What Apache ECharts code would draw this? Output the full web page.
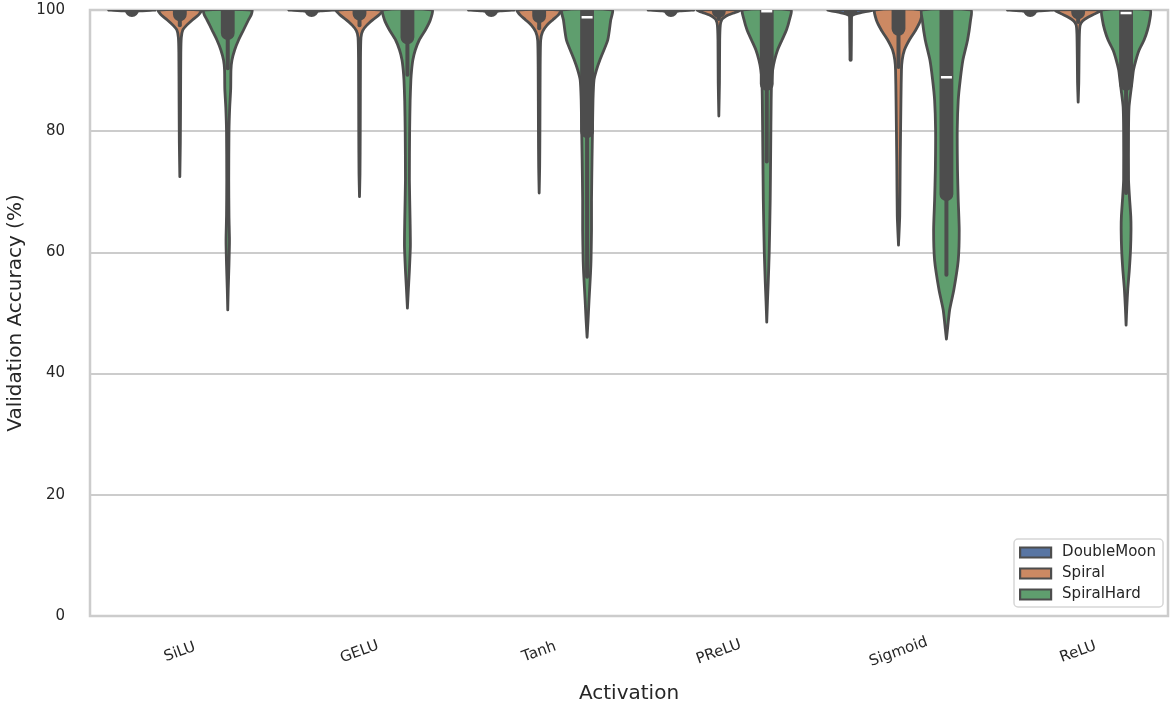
<!DOCTYPE html>
<html>
<head>
<meta charset="utf-8">
<script src="https://cdn.jsdelivr.net/npm/echarts@6/dist/echarts.min.js"></script>
<style>
  html, body { margin: 0; padding: 0; background: #fff; }
  #chart { width: 1172px; height: 701px; }
</style>
</head>
<body>
<div id="chart"></div>
<script>
const activations = ['SiLU', 'GELU', 'Tanh', 'PReLU', 'Sigmoid', 'ReLU'];
const datasets = ['DoubleMoon', 'Spiral', 'SpiralHard'];
const colors = ['#5875a3', '#cc8963', '#5f9e6e'];
const yTicks = [0, 20, 40, 60, 80, 100];

// violin outlines: [accuracy, relative half width]
const doubleMoonShape = [
  [[100, 0.94], [99.85, 0.35], [99.75, 0.05], [99.6, 0]],
  [[100, 0.92], [99.85, 0.35], [99.75, 0.05], [99.6, 0]],
  [[100, 0.92], [99.85, 0.35], [99.75, 0.05], [99.6, 0]],
  [[100, 0.92], [99.85, 0.35], [99.75, 0.05], [99.6, 0]],
  [[100, 0.92], [99.6, 0.45], [99.3, 0.12], [99, 0.04], [95, 0.02], [91.8, 0]],
  [[100, 0.92], [99.85, 0.35], [99.75, 0.05], [99.6, 0]],
];
const spiralShape = [
  [[100, 0.88], [99.2, 0.76], [98.4, 0.52], [97.5, 0.28], [96.7, 0.12], [95.5, 0.06], [93, 0.04], [85, 0.03], [78, 0.02], [72.5, 0]],
  [[100, 0.95], [99.2, 0.8], [98.4, 0.55], [97.5, 0.3], [96.6, 0.13], [95.5, 0.06], [92, 0.04], [80, 0.03], [73, 0.02], [69.2, 0]],
  [[100, 0.9], [99.2, 0.78], [98.4, 0.56], [97.5, 0.32], [96.4, 0.14], [95, 0.06], [90, 0.04], [80, 0.03], [74, 0.02], [69.8, 0]],
  [[100, 0.88], [99.5, 0.6], [99.2, 0.4], [98.8, 0.22], [98.4, 0.12], [97.5, 0.06], [95, 0.035], [88, 0.025], [82.5, 0]],
  [[100, 0.96], [98.35, 0.9], [96.7, 0.7], [95.05, 0.44], [93.4, 0.24], [91.75, 0.15], [90.1, 0.12], [85.2, 0.1], [75, 0.07], [66, 0.05], [61.2, 0]],
  [[100, 0.94], [99.4, 0.7], [98.8, 0.4], [98.2, 0.18], [97.5, 0.08], [96, 0.05], [92, 0.035], [88, 0.025], [84.8, 0]],
];
const spiralHardShape = [
  [[100, 0.98], [99.17, 0.95], [98.35, 0.84], [96.7, 0.64], [95.05, 0.44], [93.4, 0.28], [91.7, 0.17], [90.1, 0.13], [87, 0.12], [84, 0.08], [80, 0.05], [72, 0.04], [66, 0.05], [62, 0.07], [58, 0.05], [54, 0.02], [50.5, 0]],
  [[100, 1.0], [98.35, 0.93], [96.7, 0.73], [95.05, 0.48], [93.4, 0.32], [91.75, 0.22], [90.1, 0.17], [88.45, 0.14], [85, 0.11], [80, 0.09], [72, 0.08], [65, 0.11], [61, 0.12], [57, 0.08], [54, 0.04], [50.8, 0]],
  [[100, 1.02], [98.35, 0.96], [95.05, 0.84], [91.75, 0.52], [90.1, 0.38], [88.45, 0.28], [85.15, 0.24], [80.2, 0.22], [75.2, 0.2], [68.6, 0.18], [63.7, 0.18], [58.7, 0.16], [56.6, 0.14], [52.1, 0.08], [48.8, 0.04], [46, 0]],
  [[100, 0.98], [98.35, 0.92], [96.7, 0.8], [95.05, 0.62], [93.4, 0.44], [91.75, 0.32], [90.1, 0.24], [88.45, 0.2], [85.15, 0.18], [76.9, 0.16], [68.6, 0.14], [60, 0.1], [55, 0.06], [52, 0.03], [48.5, 0]],
  [[100, 1.0], [98.35, 0.98], [95.05, 0.86], [91.75, 0.67], [88.45, 0.56], [85.15, 0.48], [80.2, 0.44], [73.6, 0.45], [68.6, 0.48], [63.7, 0.52], [58.7, 0.48], [53.8, 0.3], [50.5, 0.13], [47.2, 0.04], [45.7, 0]],
  [[100, 0.98], [98.35, 0.96], [96.7, 0.87], [95.05, 0.73], [93.4, 0.53], [91.75, 0.4], [90.1, 0.3], [88.45, 0.25], [86.8, 0.2], [84, 0.12], [80, 0.1], [72, 0.1], [69, 0.14], [66, 0.19], [63.7, 0.2], [60.4, 0.18], [57, 0.13], [54, 0.07], [51, 0.03], [48, 0]],
];

// inner box: [whisker low, q1, median, q3, whisker high]
const doubleMoonBox = [
  [100, 100, null, 100, 100],
  [100, 100, null, 100, 100],
  [100, 100, null, 100, 100],
  [100, 100, null, 100, 100],
  [91.8, 100, null, 100, 100],
  [100, 100, null, 100, 100],
];
const spiralBox = [
  [97.5, 99.3, null, 100, 100],
  [97.5, 99.4, null, 100, 100],
  [97, 99.0, null, 100, 100],
  [98.5, 99.8, null, 100, 100],
  [90.6, 96.9, null, 100, 100],
  [98, 99.6, null, 100, 100],
];
const spiralHardBox = [
  [90.4, 96.2, null, 100, 100],
  [89.3, 95.5, null, 100, 100],
  [56, 80, 98.8, 100, 100],
  [75, 87.8, 99.8, 100, 100],
  [56.3, 69.6, 88.9, 100, 100],
  [69.8, 87.8, 99.5, 100, 100],
];

const shapes = [doubleMoonShape, spiralShape, spiralHardShape];
const boxes = [doubleMoonBox, spiralBox, spiralHardBox];
const edge = '#4d4d4d';

const violin = (hue) => (params, api) => {
  const i = api.value(0);
  const band = api.size([1, 0])[0];
  const x0 = api.coord([i, 0])[0] + (hue - 1) * band * 0.2667;
  const k = band * 0.137;
  const y = v => api.coord([i, v])[1];
  const prof = shapes[hue][i];
  const left = prof.map(([v, w]) => [x0 - w * k, y(v)]);
  const right = prof.map(([v, w]) => [x0 + w * k, y(v)]).reverse();
  const [wl, q1, med, q3, wh] = boxes[hue][i];
  const bw = band * 0.077;
  const kids = [
    {
      type: 'polygon',
      shape: { points: left.concat(right), smooth: 0.2 },
      style: { fill: colors[hue], stroke: edge, lineWidth: 2.8, lineJoin: 'round' },
    },
    {
      type: 'line',
      shape: { x1: x0, y1: y(wh), x2: x0, y2: y(wl) },
      style: { stroke: edge, lineWidth: 4, lineCap: 'round' },
    },
    {
      type: 'rect',
      shape: { x: x0 - bw / 2, y: y(q3) - bw / 2, width: bw, height: y(q1) - y(q3) + bw, r: bw / 2 },
      style: { fill: edge },
    },
  ];
  if (med != null) {
    kids.push({
      type: 'line',
      shape: { x1: x0 - 5.5, y1: y(med), x2: x0 + 5.5, y2: y(med) },
      style: { stroke: '#fff', lineWidth: 2.5 },
    });
  }
  return { type: 'group', children: kids };
};

const chart = echarts.init(document.getElementById('chart'), null, { renderer: 'canvas' });
const font = 'DejaVu Sans';

chart.setOption({
  animation: false,
  textStyle: { fontFamily: font },
  grid: {
    left: 90, right: 4, top: 10, bottom: 85,
    outerBoundsMode: 'none',
    containLabel: false,
    show: true, borderColor: '#cccccc', borderWidth: 2.5,
  },
  legend: {
    orient: 'vertical',
    left: 1014, top: 539,
    data: datasets,
    icon: 'rect',
    itemWidth: 31, itemHeight: 10, itemGap: 6,
    padding: [6, 7, 5, 5],
    selectedMode: false,
    backgroundColor: '#fff',
    borderColor: '#d6d6d6', borderWidth: 1.5, borderRadius: 4,
    itemStyle: { borderColor: edge, borderWidth: 2.2 },
    textStyle: { fontFamily: font, fontSize: 15, color: '#262626', padding: [0, 0, 0, 6] },
  },
  xAxis: {
    type: 'category',
    data: activations,
    boundaryGap: true,
    axisLine: { show: false },
    axisTick: { show: false },
    splitLine: { show: false },
    axisLabel: {
      rotate: 20, align: 'center', verticalAlign: 'middle', margin: 36,
      fontSize: 15, color: '#262626', fontFamily: font,
    },
    name: 'Activation',
    nameLocation: 'middle',
    nameGap: 68,
    nameTextStyle: { fontSize: 20, color: '#262626', fontFamily: font },
  },
  yAxis: {
    type: 'value',
    min: yTicks[0], max: yTicks[yTicks.length - 1], interval: 20,
    axisLine: { show: false },
    axisTick: { show: false },
    splitLine: { lineStyle: { color: '#cccccc', width: 2 } },
    axisLabel: { fontSize: 15, color: '#262626', margin: 25, fontFamily: font },
    name: 'Validation Accuracy (%)',
    nameLocation: 'middle',
    nameGap: 63,
    nameTextStyle: { fontSize: 20, color: '#262626', fontFamily: font },
  },
  series: datasets.map((name, hue) => ({
    name,
    type: 'custom',
    clip: true,
    itemStyle: { color: colors[hue] },
    renderItem: violin(hue),
    encode: { x: 0, y: 1 },
    data: activations.map((a, i) => [i, boxes[hue][i][3]]),
  })),
});

window.addEventListener('resize', () => chart.resize());
</script>
</body>
</html>
